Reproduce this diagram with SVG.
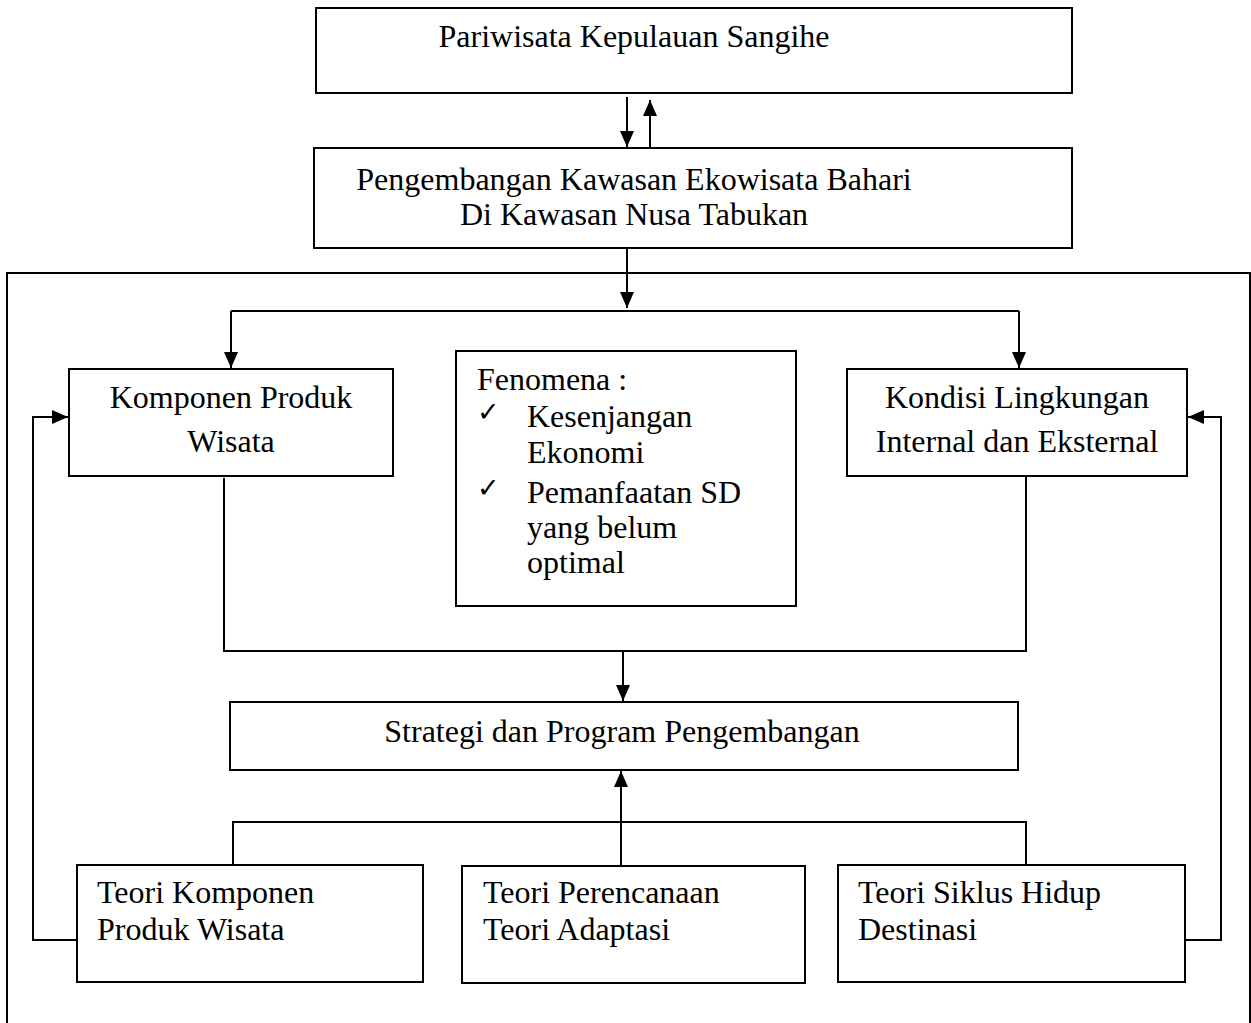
<svg xmlns="http://www.w3.org/2000/svg" width="1251" height="1023" viewBox="0 0 1251 1023">
<style>
.box{fill:#fff;stroke:#000;stroke-width:2}
.ln{fill:none;stroke:#000;stroke-width:2}
.t{font-family:"Liberation Serif","Times New Roman",serif;font-size:32px;fill:#000}
.c{text-anchor:middle}
.ck{font-family:"DejaVu Sans",sans-serif;font-size:27px;fill:#000}
</style>
<defs>
<marker id="ah" markerUnits="userSpaceOnUse" markerWidth="16" markerHeight="16" viewBox="0 0 16 16" refX="16" refY="8" orient="auto">
<path d="M0,1 L16,8 L0,15 Z" fill="#000"/>
</marker>
</defs>
<rect x="7" y="273" width="1243" height="760" class="ln"/>
<g id="n1"><rect class="box" x="316" y="8" width="756" height="85"/><text class="t c" x="634" y="47">Pariwisata Kepulauan Sangihe</text></g>
<g id="n2"><rect class="box" x="314" y="148" width="758" height="100"/><text class="t c" x="634" y="190">Pengembangan Kawasan Ekowisata Bahari</text><text class="t c" x="634" y="225">Di Kawasan Nusa Tabukan</text></g>
<g id="n3"><rect class="box" x="69" y="369" width="324" height="107"/><text class="t c" x="231" y="408">Komponen Produk</text><text class="t c" x="231" y="452">Wisata</text></g>
<g id="n4"><rect class="box" x="456" y="351" width="340" height="255"/>
<text class="t" x="477" y="390">Fenomena :</text>
<text class="ck" x="477" y="421">✓</text><text class="t" x="527" y="427">Kesenjangan</text>
<text class="t" x="527" y="463">Ekonomi</text>
<text class="ck" x="477" y="497">✓</text><text class="t" x="527" y="503">Pemanfaatan SD</text>
<text class="t" x="527" y="538">yang belum</text>
<text class="t" x="527" y="573">optimal</text></g>
<g id="n5"><rect class="box" x="847" y="369" width="340" height="107"/><text class="t c" x="1017" y="408">Kondisi Lingkungan</text><text class="t c" x="1017" y="452">Internal dan Eksternal</text></g>
<g id="n6"><rect class="box" x="230" y="702" width="788" height="68"/><text class="t c" x="622" y="742">Strategi dan Program Pengembangan</text></g>
<g id="n7"><rect class="box" x="77" y="865" width="346" height="117"/><text class="t" x="97" y="903">Teori Komponen</text><text class="t" x="97" y="940">Produk Wisata</text></g>
<g id="n8"><rect class="box" x="462" y="866" width="343" height="117"/><text class="t" x="483" y="903">Teori Perencanaan</text><text class="t" x="483" y="940">Teori Adaptasi</text></g>
<g id="n9"><rect class="box" x="838" y="865" width="347" height="117"/><text class="t" x="858" y="903">Teori Siklus Hidup</text><text class="t" x="858" y="940">Destinasi</text></g>
<g id="connectors">
<path class="ln" d="M627,97 V147" marker-end="url(#ah)"/>
<path class="ln" d="M650,147 V100" marker-end="url(#ah)"/>
<path class="ln" d="M627,249 V308" marker-end="url(#ah)"/>
<path class="ln" d="M231,311 H1019"/>
<path class="ln" d="M231,311 V368" marker-end="url(#ah)"/>
<path class="ln" d="M1019,311 V368" marker-end="url(#ah)"/>
<path class="ln" d="M77,940 H33 V417 H68" marker-end="url(#ah)"/>
<path class="ln" d="M1185,940 H1221 V417 H1188" marker-end="url(#ah)"/>
<path class="ln" d="M224,478 V651 H1026 V476"/>
<path class="ln" d="M623,651 V701" marker-end="url(#ah)"/>
<path class="ln" d="M233,865 V822 H1026 V865"/>
<path class="ln" d="M621,866 V771" marker-end="url(#ah)"/>
</g>
</svg>
